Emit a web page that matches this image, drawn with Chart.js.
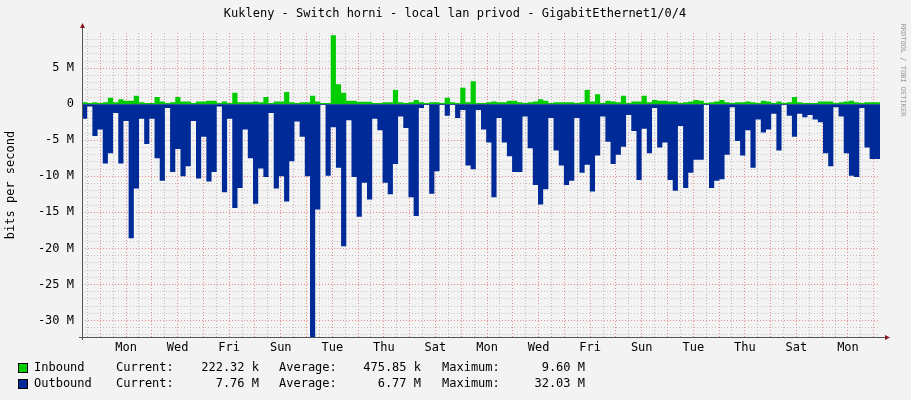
<!DOCTYPE html>
<html>
<head>
<meta charset="utf-8">
<script src="https://cdn.jsdelivr.net/npm/chart.js@4/dist/chart.umd.min.js"></script>
<style>
  html, body { margin: 0; padding: 0; background: #f3f3f3; }
  #wrap { width: 911px; height: 400px; }
</style>
</head>
<body>
<div id="wrap"><canvas id="trafficChart"></canvas></div>
<script>
// values in Mbit/s, one per step
const inbound = [
  0.2,0.3,0.2,0.3,0.2,0.3,0.9,0.3,0.7,0.5,0.5,1.2,0.3,0.2,0.2,1.0,0.4,0.2,0.3,1.0,0.4,0.4,0.2,0.4,0.4,0.5,0.5,0.2,0.4,0.2,1.6,0.3,0.3,0.3,0.4,0.3,1.0,0.2,0.4,0.4,1.7,
  0.3,0.2,0.3,0.3,1.2,0.4,0.2,0.2,9.6,2.8,1.6,0.5,0.5,0.35,0.35,0.35,0.2,0.2,0.3,0.3,2.0,0.3,0.2,0.3,0.6,0.3,0.2,0.3,0.3,0.2,0.9,0.3,0.2,2.3,0.3,3.2,0.2,0.2,0.3,
  0.4,0.3,0.3,0.5,0.5,0.3,0.2,0.3,0.4,0.7,0.5,0.2,0.3,0.3,0.3,0.3,0.2,0.3,2.0,0.4,1.4,0.2,0.5,0.4,0.3,1.2,0.2,0.4,0.4,1.2,0.3,0.6,0.5,0.5,0.4,0.4,0.2,
  0.3,0.4,0.6,0.5,0.2,0.3,0.4,0.6,0.3,0.2,0.3,0.3,0.4,0.3,0.2,0.5,0.4,0.2,0.4,0.2,0.3,1.0,0.3,0.2,0.2,0.2,0.4,0.4,0.4,0.2,0.3,0.4,0.5,0.3,0.2,0.3,0.3
];
const outbound = [
  -3.1,-2,-0.3,-4.4,-3.5,-8.2,-6.8,-1.2,-8.2,-2.3,-18.6,-11.7,-2,-5.5,-2,-7.5,-10.6,-0.5,-9.4,-6.2,-10,-8.6,-2.3,-10.3,-4.5,-10.7,-9.4,-0.3,-12.2,-2,-14.4,-11.6,-3.5,-7.5,-13.8,-8.9,-10.1,-1.2,-11.7,-10,-13.5,
  -7.9,-2.4,-4.5,-10,-32.3,-14.6,-0.1,-9.9,-3.2,-8.8,-19.7,-2.2,-10.1,-15.6,-10.9,-13.2,-2,-3.6,-10.9,-12.5,-8.3,-1.7,-3.3,-12.9,-15.5,-0.5,-0.1,-12.4,-9.3,-0.1,-1.6,-0.1,-1.9,-0.8,-8.5,-9,-0.8,-3.5,-5.3,
  -12.9,-1.9,-5.3,-7.2,-9.4,-9.4,-1.7,-6.1,-11.2,-13.9,-11.8,-1.9,-6.4,-8.5,-11.2,-10.6,-1.9,-9.5,-8.4,-12.1,-7.1,-1.7,-5.2,-8.3,-7,-5.9,-1.5,-3.7,-10.5,-3.4,-6.8,-0.5,-6,-5.3,-10.5,-12,-3,
  -11.6,-9.5,-7.7,-7.7,-0.1,-11.6,-10.6,-10.4,-7,-0.4,-5.1,-7.1,-3.6,-8.8,-2.1,-3.9,-3.5,-1.3,-6.4,-0.1,-1.6,-4.5,-1.3,-1.8,-1.5,-2.1,-2.5,-6.8,-8.6,-0.4,-1.7,-6.8,-9.9,-10.1,-0.5,-6,-7.6
];
const dayLabels = ['Mon', 'Wed', 'Fri', 'Sun', 'Tue', 'Thu', 'Sat', 'Mon', 'Wed', 'Fri', 'Sun', 'Tue', 'Thu', 'Sat', 'Mon'];
const legendRows = [
  ['Inbound', '222.32 k', '475.85 k', '9.60 M', '#00cc00'],
  ['Outbound', '7.76 M', '6.77 M', '32.03 M', '#002a97']
];

const spanUnits = 371.4;     // visible range, 1 unit = 2 h
const firstLabel = 20.5;     // units from left edge to first "Mon"
const step = spanUnits / outbound.length;

function toPoints(arr) {
  const pts = arr.map((v, i) => ({ x: i * step, y: v }));
  pts.push({ x: arr.length * step, y: arr[arr.length - 1] });
  return pts;
}

const mono = '"DejaVu Sans Mono", monospace';

const decor = {
  id: 'decor',
  afterDraw(chart) {
    const c = chart.ctx;
    const a = chart.chartArea;
    c.save();
    c.fillStyle = '#000';
    c.font = '12px ' + mono;
    c.textAlign = 'center';
    c.textBaseline = 'middle';
    c.fillText('Kukleny - Switch horni - local lan privod - GigabitEthernet1/0/4', 455, 14);
    c.save();
    c.translate(11, 185);
    c.rotate(-Math.PI / 2);
    c.fillText('bits per second', 0, 0);
    c.restore();
    c.save();
    c.translate(903, 70);
    c.rotate(Math.PI / 2);
    c.fillStyle = '#999';
    c.font = '7px ' + mono;
    c.fillText('RRDTOOL / TOBI OETIKER', 0, 0);
    c.restore();
    // axes
    c.strokeStyle = '#555';
    c.lineWidth = 1;
    c.beginPath();
    c.moveTo(a.left + 0.5, a.top - 6);
    c.lineTo(a.left + 0.5, a.bottom + 3);
    c.moveTo(a.left - 3, a.bottom + 0.5);
    c.lineTo(a.right + 6, a.bottom + 0.5);
    c.stroke();
    c.fillStyle = '#8b1a1a';
    c.beginPath();
    c.moveTo(a.left - 2, a.top - 5); c.lineTo(a.left + 3, a.top - 5); c.lineTo(a.left + 0.5, a.top - 10);
    c.fill();
    c.beginPath();
    c.moveTo(a.right + 5, a.bottom - 2); c.lineTo(a.right + 5, a.bottom + 3); c.lineTo(a.right + 10, a.bottom + 0.5);
    c.fill();
    // legend
    c.font = '12px ' + mono;
    legendRows.forEach((r, i) => {
      const y = 368 + i * 16;
      c.fillStyle = r[4];
      c.fillRect(18, y - 5, 9, 9);
      c.strokeStyle = '#000';
      c.strokeRect(18.5, y - 4.5, 9, 9);
      c.fillStyle = '#000';
      c.textAlign = 'left';
      c.fillText(r[0], 34, y);
      c.fillText('Current:', 116, y);
      c.fillText('Average:', 279, y);
      c.fillText('Maximum:', 442, y);
      c.textAlign = 'right';
      c.fillText(r[1], 259, y);
      c.fillText(r[2], 421, y);
      c.fillText(r[3], 585, y);
    });
    c.restore();
  }
};

function xTicks() {
  const t = [];
  for (let v = firstLabel % 6; v <= spanUnits; v += 6) t.push({ value: v });
  return t;
}
function yTicks() {
  const t = [];
  for (let v = -32; v <= 9; v++) t.push({ value: v });
  return t;
}
const isMajorX = v => Math.abs(((v - firstLabel) % 12 + 12) % 12) < 0.01;
const isLabelX = v => Math.abs(((v - firstLabel) % 24 + 24) % 24) < 0.01;

new Chart(document.getElementById('trafficChart'), {
  type: 'line',
  data: {
    datasets: [
      { label: 'Outbound', data: toPoints(outbound), stepped: 'after', fill: 'origin',
        backgroundColor: '#002a97', borderWidth: 0, pointRadius: 0 },
      { label: 'Inbound', data: toPoints(inbound), stepped: 'after', fill: 'origin',
        backgroundColor: '#00cc00', borderWidth: 0, pointRadius: 0 }
    ]
  },
  options: {
    responsive: true,
    maintainAspectRatio: false,
    animation: false,
    layout: { padding: { top: 33, right: 31, left: 0, bottom: 0 } },
    plugins: { legend: { display: false }, tooltip: { enabled: false } },
    scales: {
      x: {
        type: 'linear', min: 0, max: spanUnits,
        afterBuildTicks: s => { s.ticks = xTicks(); },
        afterFit: s => { s.height = 63; },
        border: { display: false, dash: [1, 2] },
        grid: {
          color: ctx => isMajorX(ctx.tick.value) ? 'rgba(230,110,110,0.8)' : 'rgba(170,170,170,0.8)',
          lineWidth: 1, drawTicks: false
        },
        ticks: {
          autoSkip: false, maxRotation: 0, padding: 4, color: '#000',
          font: { family: mono, size: 12 },
          callback: v => isLabelX(v) ? dayLabels[Math.round((v - firstLabel) / 24)] : ''
        }
      },
      y: {
        min: -32.3, max: 9.9,
        afterBuildTicks: s => { s.ticks = yTicks(); },
        afterFit: s => { s.width = 82; },
        border: { display: false, dash: [1, 2] },
        grid: {
          color: ctx => ctx.tick.value % 5 === 0 ? 'rgba(230,110,110,0.8)' : 'rgba(180,180,180,0.7)',
          drawTicks: false
        },
        ticks: {
          autoSkip: false, padding: 8, color: '#000',
          font: { family: mono, size: 12 },
          callback: v => v % 5 !== 0 ? '' : (v === 0 ? '0' : v + ' M')
        }
      }
    }
  },
  plugins: [decor]
});
</script>
</body>
</html>
